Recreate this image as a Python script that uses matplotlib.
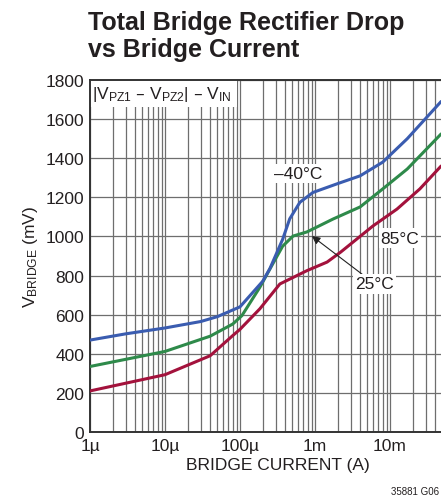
import numpy as np
import matplotlib
matplotlib.use('Agg')
import matplotlib.pyplot as plt
from matplotlib.ticker import FixedLocator, LogLocator, NullFormatter

plt.rcParams['font.family'] = ['Liberation Sans', 'DejaVu Sans']
plt.rcParams['mathtext.default'] = 'regular'

# bridge current (A) and drop (mV)
i_m40 = [1e-6, 3e-6, 1e-5, 3e-5, 5e-5, 1e-4, 2e-4, 2.5e-4, 3.7e-4, 4.6e-4, 6.3e-4, 9.4e-4, 2e-3, 4e-3, 8e-3, 1.7e-2, 4.8e-2]
v_m40 = [470, 502, 532, 565, 590, 640, 770, 835, 985, 1090, 1175, 1225, 1270, 1310, 1380, 1500, 1690]
i_25 = [1e-6, 1e-5, 4e-5, 8e-5, 1.06e-4, 1.84e-4, 2.5e-4, 3.7e-4, 5.1e-4, 7.8e-4, 1.74e-3, 4e-3, 8e-3, 1.7e-2, 4.8e-2]
v_25 = [335, 412, 490, 552, 595, 740, 833, 950, 1002, 1023, 1089, 1151, 1243, 1345, 1524]
i_85 = [1e-6, 1e-5, 4e-5, 8e-5, 1e-4, 1.84e-4, 3.4e-4, 7.8e-4, 1.45e-3, 2.2e-3, 5.9e-3, 1.24e-2, 2.5e-2, 4.8e-2]
v_85 = [210, 293, 390, 493, 525, 630, 757, 825, 869, 920, 1053, 1140, 1243, 1360]

xticks = [1e-6, 1e-5, 1e-4, 1e-3, 1e-2]
xlabels = ['1µ', '10µ', '100µ', '1m', '10m']
yticks = list(range(0, 1801, 200))

fig = plt.figure(figsize=(4.41, 5.02), dpi=100)
ax = fig.add_axes([90/441, 1-433/502, 375/441, 352/502])

ax.plot(i_85, v_85, color='#a3123c', lw=2.2, solid_capstyle='round', zorder=3)
ax.plot(i_25, v_25, color='#2e8a4a', lw=2.2, solid_capstyle='round', zorder=3)
ax.plot(i_m40, v_m40, color='#3a5cb0', lw=2.2, solid_capstyle='round', zorder=3)

ax.set_xscale('log')
ax.set_xlim(1e-6, 1e-1)
ax.set_ylim(0, 1800)
ax.xaxis.set_major_locator(FixedLocator(xticks + [1e-1]))
ax.set_xticklabels(xlabels + [''])
ax.xaxis.set_minor_locator(LogLocator(base=10, subs=np.arange(2, 10)))
ax.xaxis.set_minor_formatter(NullFormatter())
ax.set_yticks(yticks)
ax.tick_params(which='both', length=0, labelsize=12.5, pad=4, labelcolor='#231f20')
ax.grid(True, which='both', color='#6e6e6e', lw=0.9)
for s in ax.spines.values():
    s.set_linewidth(1.4)
    s.set_color('#333333')

ax.set_xlabel('BRIDGE CURRENT (A)', fontsize=12.5, labelpad=3, color='#231f20')
ax.set_ylabel('V$_{BRIDGE}$ (mV)', fontsize=12.5, labelpad=4, color='#231f20')

# box sits under the frame but over the grid
ax.text(0.006, 0.99, '|V$_{PZ1}$ – V$_{PZ2}$| – V$_{IN}$', transform=ax.transAxes,
        fontsize=12.5, va='top', ha='left', zorder=2, color='#231f20',
        bbox=dict(facecolor='white', edgecolor='none', pad=3.5))
ax.text(5.9e-4, 1320, '–40°C', fontsize=12.5, ha='center', va='center', zorder=4,
        color='#231f20', bbox=dict(facecolor='white', edgecolor='none', pad=1.5))
ax.text(1.36e-2, 992, '85°C', fontsize=12.5, ha='center', va='center', zorder=4,
        color='#231f20', bbox=dict(facecolor='white', edgecolor='none', pad=1.5))
ax.annotate('25°C', xy=(9.1e-4, 1002), xytext=(6.3e-3, 757), fontsize=12.5,
            ha='center', va='center', zorder=4, color='#231f20',
            bbox=dict(facecolor='white', edgecolor='none', pad=1.5),
            arrowprops=dict(arrowstyle='-|>', color='#222222', lw=0.8,
                            mutation_scale=12, shrinkA=0, shrinkB=0))

fig.text(88/441, 1-11/502, 'Total Bridge Rectifier Drop\nvs Bridge Current',
         fontsize=18, fontweight='bold', va='top', ha='left', linespacing=1.15,
         color='#231f20')
fig.text(439/441, 1-497/502, '35881 G06', fontsize=7, ha='right', va='bottom',
         color='#231f20')

fig.savefig('out.png', dpi=100)
